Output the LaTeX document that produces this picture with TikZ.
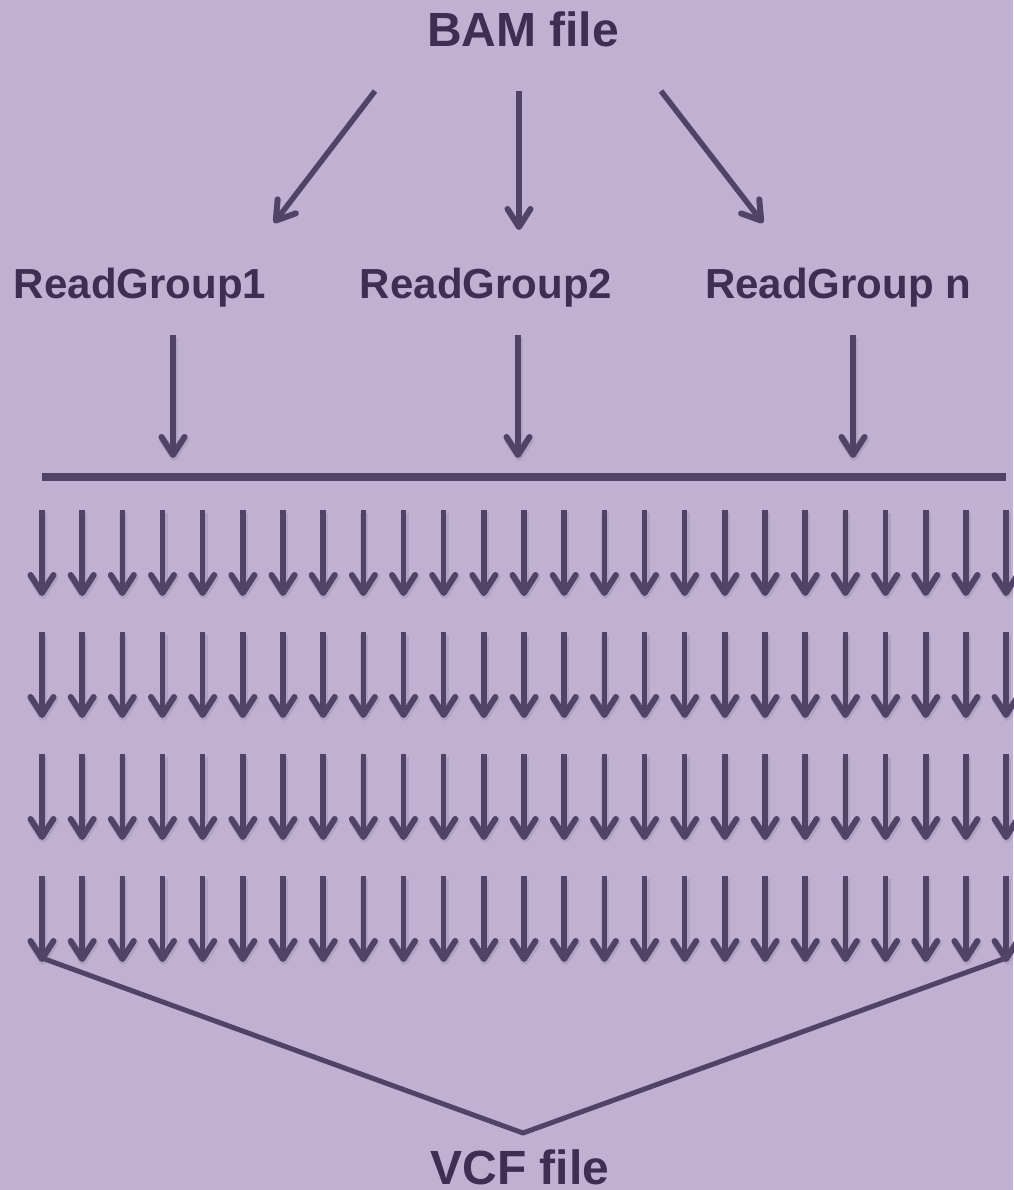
\documentclass[tikz,border=0pt]{standalone}
\usepackage{fontspec}
\setmainfont{Liberation Sans}
\usetikzlibrary{arrows.meta}
\definecolor{bgc}{RGB}{192,177,211}
\definecolor{linec}{RGB}{81,67,102}
\definecolor{textc}{RGB}{62,47,82}
\tikzset{
  lbl/.style={anchor=base, text=textc, font=\bfseries, inner sep=0pt},
  flow/.style={line width=5.5pt, draw=linec, line cap=butt,
    -{Straight Barb[length=18pt, width=23pt, line width=6pt, round]}},
  flowshadow/.style={line width=8pt, draw=black, opacity=0.08, line cap=butt,
    -{Straight Barb[length=18pt, width=23pt, line width=8pt, round]}},
  bar/.style={line width=7.5pt, draw=linec},
  merge/.style={line width=5pt, draw=linec, line join=round}
}
\begin{document}
\begin{tikzpicture}[x=1pt, y=-1pt]
  % canvas
  \fill[bgc] (0,0) rectangle (1013,1190);
  \useasboundingbox (0,0) rectangle (1013,1190);

  % labels
  \node[lbl, font=\bfseries\fontsize{48}{50}\selectfont] (bam) at (523,47) {BAM file};
  \node[lbl, font=\bfseries\fontsize{42}{44}\selectfont] (rg1) at (140,298) {ReadGroup1};
  \node[lbl, font=\bfseries\fontsize{42}{44}\selectfont] (rg2) at (486,298) {ReadGroup2};
  \node[lbl, font=\bfseries\fontsize{42}{44}\selectfont] (rgn) at (838,298) {ReadGroup n};
  \node[lbl, font=\bfseries\fontsize{48}{50}\selectfont] (vcf) at (520,1184) {VCF file};

  % split of the BAM file into read groups
  \coordinate (bamL) at (375,91);
  \coordinate (bamM) at (519,91);
  \coordinate (bamR) at (661,91);
  \coordinate (rg1in) at (274,223);
  \coordinate (rg2in) at (519,230);
  \coordinate (rgnin) at (763,223);
  \draw[flow] (bamL) -- (rg1in);
  \draw[flow] (bamM) -- (rg2in);
  \draw[flow] (bamR) -- (rgnin);

  % read groups down to the common bar
  \coordinate (rg1out) at (173,335);
  \coordinate (rg2out) at (518,335);
  \coordinate (rgnout) at (853,335);
  \coordinate (rg1bar) at (173,458);
  \coordinate (rg2bar) at (518,458);
  \coordinate (rgnbar) at (853,458);
  \coordinate (barL) at (42,477);
  \coordinate (barR) at (1006,477);
  \foreach \s in {rg1,rg2,rgn} {
    \draw[flowshadow] ([shift={(1,3)}]\s out) -- ([shift={(1,3)}]\s bar);
    \draw[flow] (\s out) -- (\s bar);
  }
  \draw[bar] (barL) -- (barR);

  % grid of parallel processing arrows
  \foreach \j in {0,...,3} {
    \foreach \i in {0,...,24} {
      \coordinate (g-\i-\j-s) at ({42+\i*40.17},{510+\j*122});
      \coordinate (g-\i-\j-e) at ({42+\i*40.17},{596+\j*122});
      \draw[flowshadow] ([shift={(1,3)}]g-\i-\j-s) -- ([shift={(1,3)}]g-\i-\j-e);
      \draw[flow] (g-\i-\j-s) -- (g-\i-\j-e);
    }
  }

  % merge into the VCF file
  \coordinate (join) at (523,1133);
  \draw[merge] ([yshift=4pt]g-0-3-e) -- (join) -- ([yshift=4pt]g-24-3-e);
\end{tikzpicture}
\end{document}
